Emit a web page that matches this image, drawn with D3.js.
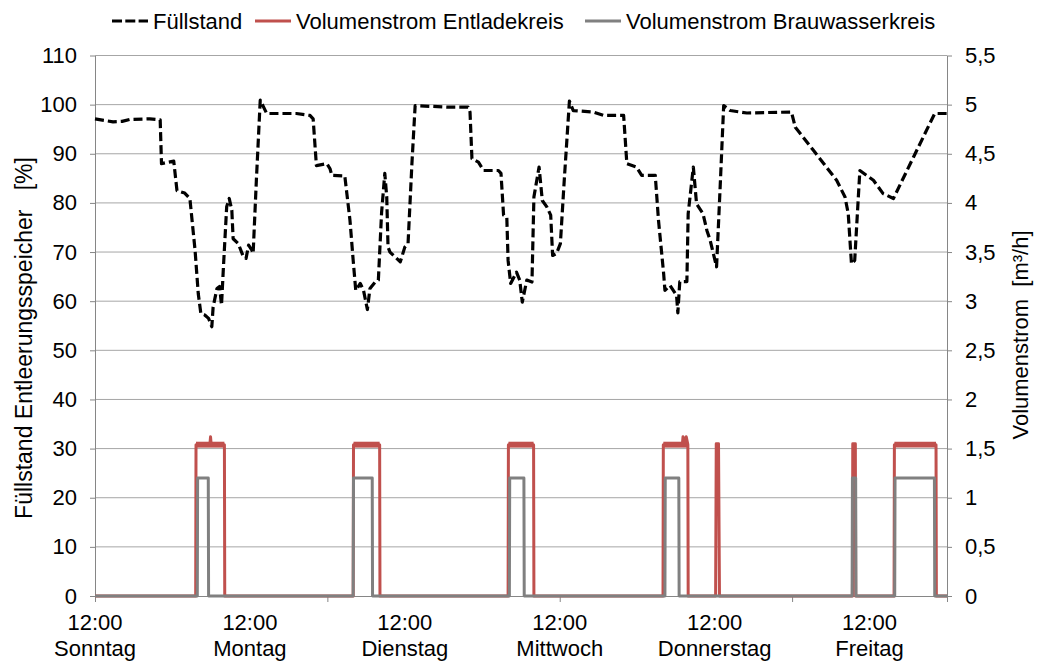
<!DOCTYPE html>
<html lang="de">
<head>
<meta charset="UTF-8">
<title>Füllstand und Volumenstrom</title>
<script src="https://d3js.org/d3.v7.min.js"></script>
<style>
  body { margin: 0; background: #fff; }
  text { font-family: "Liberation Sans", Arial, sans-serif; fill: #000; }
</style>
</head>
<body>
<script>
// Zeit in Stunden ab Sonntag 12:00
var fuellstand = [
  [0, 97.1], [2.8, 96.5], [4.2, 96.6], [5.4, 97.0], [8.5, 97.1], [10.1, 96.9],
  [10.3, 88.0], [11.0, 88.2], [12.2, 88.5], [12.7, 82.5], [13.9, 82.0], [14.7, 80.9],
  [15.5, 70.4], [16.0, 61.5], [16.4, 57.5], [17.0, 57.2], [17.6, 56.5], [18.1, 54.8],
  [18.3, 58.8], [18.9, 62.6], [19.3, 63.0], [19.6, 59.2], [19.9, 67.0], [20.4, 79.2],
  [20.8, 80.9], [21.2, 78.5], [21.4, 72.7], [22.2, 71.7], [23.0, 69.0], [23.4, 68.7],
  [23.8, 71.4], [24.3, 70.4], [24.5, 69.7], [25.0, 84.6], [25.6, 100.9], [26.6, 98.2],
  [31.2, 98.2], [33.3, 97.8], [33.8, 97.1], [34.3, 87.6], [35.9, 88.0], [36.4, 87.0],
  [36.7, 85.6], [38.7, 85.5], [39.5, 76.5], [40.0, 68.3], [40.4, 62.2], [41.1, 63.6],
  [41.6, 62.2], [42.2, 58.3], [42.6, 62.6], [43.4, 63.9], [43.9, 64.3], [44.4, 78.0],
  [44.9, 86.0], [45.2, 81.2], [45.4, 71.0], [45.7, 70.0], [46.5, 69.0], [47.3, 68.0],
  [48.0, 71.0], [48.5, 71.7], [49.1, 88.0], [49.6, 99.8], [54.5, 99.5], [57.8, 99.5],
  [58.1, 98.5], [58.4, 89.0], [59.4, 88.3], [60.2, 86.6], [62.5, 86.6], [62.9, 86.0],
  [63.3, 77.5], [63.8, 77.1], [64.0, 68.3], [64.4, 63.6], [65.3, 65.9], [65.8, 64.3],
  [66.2, 59.8], [66.9, 64.3], [67.7, 63.9], [68.0, 81.2], [68.8, 87.3], [69.3, 80.5],
  [70.0, 79.2], [70.6, 77.5], [70.9, 69.3], [71.5, 69.7], [72.1, 71.7], [72.7, 84.6],
  [73.5, 100.7], [74.1, 98.8], [77.2, 98.5], [78.8, 97.8], [81.9, 97.8], [82.4, 88.0],
  [83.9, 87.3], [84.7, 85.6], [86.8, 85.6], [87.3, 76.5], [88.1, 65.6], [88.3, 62.2],
  [89.1, 63.2], [90.1, 61.2], [90.3, 57.6], [90.6, 64.0], [91.7, 64.0], [91.9, 77.8],
  [92.7, 87.3], [93.2, 79.8], [94.2, 77.8], [94.8, 74.4], [95.3, 72.4], [95.8, 69.7],
  [96.3, 67.0], [96.9, 84.6], [97.4, 99.8], [98.4, 98.8], [101.0, 98.3], [107.9, 98.5],
  [108.5, 95.4], [111.3, 90.7], [114.9, 84.6], [116.2, 81.2], [116.7, 77.8], [117.2, 67.6],
  [117.7, 68.3], [118.5, 86.6], [120.6, 84.6], [122.1, 81.9], [123.7, 80.9], [126.8, 89.3],
  [130.1, 98.2], [132, 98.2]
];

var entladekreis = [
  [0, 0], [15.6, 0], [15.65, 1.54], [17.8, 1.54], [17.9, 1.62], [18.0, 1.54], [20.05, 1.54], [20.1, 0],
  [40.0, 0], [40.05, 1.54], [44.1, 1.54], [44.15, 0],
  [64.0, 0], [64.05, 1.54], [67.95, 1.54], [68.0, 0],
  [88.0, 0], [88.05, 1.54], [91.0, 1.54], [91.1, 1.62], [91.4, 1.56], [91.6, 1.62], [91.85, 1.54], [91.9, 0],
  [96.15, 0], [96.25, 1.55], [96.6, 1.55], [96.75, 0],
  [117.35, 0], [117.4, 1.55], [117.8, 1.55], [117.85, 0],
  [123.8, 0], [123.85, 1.54], [130.3, 1.54], [130.35, 0], [132, 0]
];

// Streubereich des Entladekreises in den Betriebsphasen [von, bis, min, max]
var entladeStreuung = [
  [15.65, 20.05, 1.51, 1.57],
  [40.05, 44.1, 1.51, 1.57],
  [64.05, 67.95, 1.51, 1.57],
  [88.05, 91.85, 1.51, 1.57],
  [123.85, 130.3, 1.51, 1.57]
];

var brauwasser = [
  [0, 0], [15.85, 0], [15.9, 1.2], [17.55, 1.2], [17.6, 0],
  [40.0, 0], [40.05, 1.2], [42.95, 1.2], [43.0, 0],
  [64.2, 0], [64.25, 1.2], [66.45, 1.2], [66.5, 0],
  [88.3, 0], [88.35, 1.2], [90.45, 1.2], [90.5, 0],
  [117.3, 0], [117.35, 1.2], [117.85, 1.2], [117.9, 0],
  [123.9, 0], [123.95, 1.2], [130.05, 1.2], [130.1, 0], [132, 0]
];

var tageT = [0, 24, 48, 72, 96, 120];
var tageUhr = ["12:00", "12:00", "12:00", "12:00", "12:00", "12:00"];
var tageName = ["Sonntag", "Montag", "Dienstag", "Mittwoch", "Donnerstag", "Freitag"];
var xTicks = [0, 36, 72, 108, 132];
var linksTicks = [0, 10, 20, 30, 40, 50, 60, 70, 80, 90, 100, 110];
var rechtsTicks = [0, 0.5, 1, 1.5, 2, 2.5, 3, 3.5, 4, 4.5, 5, 5.5];

var legende = ["Füllstand", "Volumenstrom Entladekreis", "Volumenstrom Brauwasserkreis"];

var W = 1037, H = 664;
var pLeft = 95, pRight = 947, pTop = 55.5, pBottom = 596;
var achseFarbe = "#868686", gitterFarbe = "#a6a6a6";
var rot = "#c0504d", grau = "#808080";

var svg = d3.select("body").append("svg")
    .attr("width", W)
    .attr("height", H)
    .style("display", "block");

svg.append("rect").attr("width", W).attr("height", H).attr("fill", "#fff");

var x = d3.scaleLinear().domain([0, 132]).range([pLeft, pRight]);
var yL = d3.scaleLinear().domain([0, 110]).range([pBottom, pTop]);
var yR = d3.scaleLinear().domain([0, 5.5]).range([pBottom, pTop]);

// Gitterlinien
svg.append("g").selectAll("line")
    .data(linksTicks.filter(function(d) { return d > 0; }))
    .enter().append("line")
    .attr("x1", pLeft).attr("x2", pRight)
    .attr("y1", function(d) { return yL(d); })
    .attr("y2", function(d) { return yL(d); })
    .attr("stroke", gitterFarbe)
    .attr("stroke-width", 1);

// Achsen
var komma = function(d) { return String(d).replace(".", ","); };

var axL = svg.append("g")
    .attr("transform", "translate(" + pLeft + ",0)")
    .call(d3.axisLeft(yL).tickValues(linksTicks).tickSizeInner(5).tickSizeOuter(0).tickPadding(13));
var axR = svg.append("g")
    .attr("transform", "translate(" + pRight + ",0)")
    .call(d3.axisRight(yR).tickValues(rechtsTicks).tickFormat(komma).tickSizeInner(5).tickSizeOuter(0).tickPadding(13));
var axB = svg.append("g")
    .attr("transform", "translate(0," + pBottom + ")")
    .call(d3.axisBottom(x).tickValues(xTicks).tickFormat("").tickSizeInner(6).tickSizeOuter(0));

[axL, axR, axB].forEach(function(a) {
    a.select(".domain").attr("stroke", achseFarbe).attr("stroke-width", 1);
    a.selectAll(".tick line").attr("stroke", achseFarbe);
    a.selectAll(".tick text")
        .attr("font-size", 22)
        .attr("font-family", "Liberation Sans, Arial, sans-serif")
        .attr("fill", "#000");
});

// x-Beschriftung (zweizeilig)
var lab = svg.append("g").selectAll("g")
    .data(tageT)
    .enter().append("g")
    .attr("transform", function(d) { return "translate(" + x(d) + ",0)"; });
lab.append("text")
    .attr("y", 630)
    .attr("text-anchor", "middle")
    .attr("font-size", 22)
    .text(function(d, i) { return tageUhr[i]; });
lab.append("text")
    .attr("y", 656)
    .attr("text-anchor", "middle")
    .attr("font-size", 22)
    .text(function(d, i) { return tageName[i]; });

// Achsentitel
svg.append("text")
    .attr("transform", "translate(32,338) rotate(-90)")
    .attr("text-anchor", "middle")
    .attr("font-size", 23)
    .style("white-space", "pre")
    .text("Füllstand Entleerungsspeicher   [%]");
svg.append("text")
    .attr("transform", "translate(1028,335) rotate(-90)")
    .attr("text-anchor", "middle")
    .attr("font-size", 22)
    .style("white-space", "pre")
    .text("Volumenstrom  [m³/h]");

// Linien
var lineL = d3.line().x(function(d) { return x(d[0]); }).y(function(d) { return yL(d[1]); });
var lineR = d3.line().x(function(d) { return x(d[0]); }).y(function(d) { return yR(d[1]); });
var streuArea = d3.area()
    .x(function(d) { return x(d[0]); })
    .y0(function(d) { return yR(d[1]); })
    .y1(function(d) { return yR(d[2]); });

svg.append("g").selectAll("path")
    .data(entladeStreuung)
    .enter().append("path")
    .attr("d", function(d) { return streuArea([[d[0], d[2], d[3]], [d[1], d[2], d[3]]]); })
    .attr("fill", rot);

svg.append("path")
    .datum(entladekreis)
    .attr("d", lineR)
    .attr("fill", "none")
    .attr("stroke", rot)
    .attr("stroke-width", 3)
    .attr("stroke-linejoin", "round");

svg.append("path")
    .datum(brauwasser)
    .attr("d", lineR)
    .attr("fill", "none")
    .attr("stroke", grau)
    .attr("stroke-width", 3)
    .attr("stroke-linejoin", "round");

svg.append("path")
    .datum(fuellstand)
    .attr("d", lineL)
    .attr("fill", "none")
    .attr("stroke", "#000")
    .attr("stroke-width", 3.2)
    .attr("stroke-dasharray", "9,4")
    .attr("stroke-linejoin", "round");

// Legende
var legX = [112, 255, 585];
var legStil = [
    { stroke: "#000", dash: "10,3.3", w: 3.2 },
    { stroke: rot, dash: null, w: 3 },
    { stroke: grau, dash: null, w: 3 }
];
var leg = svg.append("g").selectAll("g")
    .data(legende)
    .enter().append("g")
    .attr("transform", function(d, i) { return "translate(" + legX[i] + ",21)"; });
leg.append("line")
    .attr("x1", 0).attr("x2", 36)
    .attr("stroke", function(d, i) { return legStil[i].stroke; })
    .attr("stroke-width", function(d, i) { return legStil[i].w; })
    .attr("stroke-dasharray", function(d, i) { return legStil[i].dash; });
leg.append("text")
    .attr("x", 41)
    .attr("y", 7.5)
    .attr("font-size", 22)
    .text(function(d) { return d; });
</script>
</body>
</html>
